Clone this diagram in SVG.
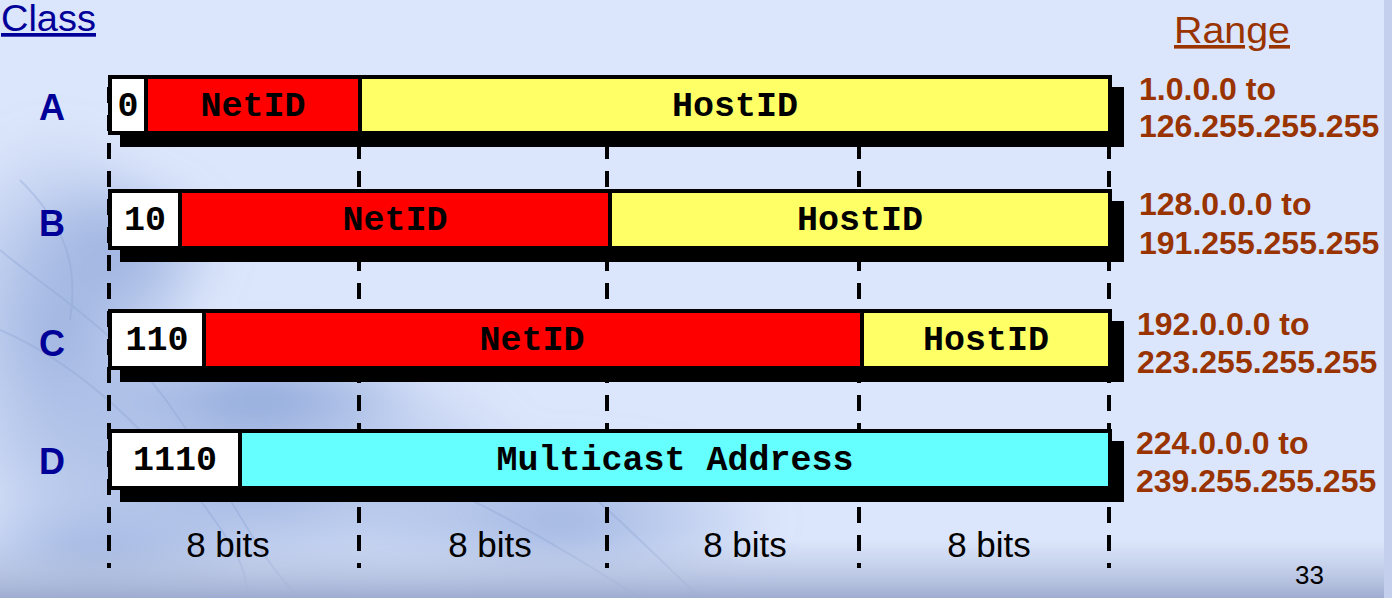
<svg xmlns="http://www.w3.org/2000/svg" width="1392" height="598" viewBox="0 0 1392 598">
<defs>
<style>
.lbl{font-family:"Liberation Sans",Arial,sans-serif;font-weight:bold;font-size:36px;fill:#000099;text-anchor:middle}
.rng{font-family:"Liberation Sans",Arial,sans-serif;font-weight:bold;font-size:32px;fill:#993300}
.mono{font-family:"Liberation Mono","Courier New",monospace;font-weight:bold;font-size:35px;fill:#000;text-anchor:middle}
.bits{font-family:"Liberation Sans",Arial,sans-serif;font-size:35px;fill:#000;text-anchor:middle}
.box{stroke:#000;stroke-width:4}
.shadow{fill:#000}
.div{stroke:#000;stroke-width:4}
.dash{stroke:#000;stroke-width:4;stroke-dasharray:16 12;fill:none}
</style>
<linearGradient id="bottomBand" x1="0" y1="0" x2="0" y2="1">
<stop offset="0" stop-color="#b9c5e3" stop-opacity="0"/>
<stop offset="0.5" stop-color="#b2bfdd" stop-opacity="0.6"/>
<stop offset="1" stop-color="#9eacd0" stop-opacity="1"/>
</linearGradient>
<radialGradient id="blob" cx="0.5" cy="0.5" r="0.5">
<stop offset="0" stop-color="#7f9bd3" stop-opacity="0.85"/>
<stop offset="1" stop-color="#7f9bd3" stop-opacity="0"/>
</radialGradient>
<radialGradient id="blob2" cx="0.5" cy="0.5" r="0.5">
<stop offset="0" stop-color="#9ab0de" stop-opacity="0.95"/>
<stop offset="1" stop-color="#9ab0de" stop-opacity="0"/>
</radialGradient>
<filter id="soft" x="-20%" y="-20%" width="140%" height="140%"><feGaussianBlur stdDeviation="18"/></filter>
</defs>

<!-- background -->
<rect x="0" y="0" width="1392" height="598" fill="#dbe5fb"/>
<g filter="url(#soft)">
<ellipse cx="60" cy="330" rx="140" ry="210" fill="url(#blob2)"/>
<ellipse cx="250" cy="470" rx="290" ry="140" fill="url(#blob2)"/>
<ellipse cx="260" cy="395" rx="170" ry="40" fill="url(#blob)"/>
<ellipse cx="560" cy="520" rx="220" ry="80" fill="url(#blob2)"/>
<ellipse cx="90" cy="560" rx="170" ry="70" fill="url(#blob2)"/>
<ellipse cx="120" cy="250" rx="110" ry="80" fill="url(#blob2)"/>
</g>
<g stroke="#8aa2d2" stroke-width="2" fill="none" opacity="0.35">
<path d="M0 250 C60 300 120 330 180 420 S260 560 300 598"/>
<path d="M0 330 C70 360 140 420 200 500 S240 580 250 598"/>
<path d="M20 180 C60 220 80 260 70 320"/>
<path d="M330 440 C420 470 520 520 640 598"/>
<path d="M560 470 C600 500 640 540 700 598"/>
</g>
<rect x="0" y="540" width="1392" height="58" fill="url(#bottomBand)"/>
<rect x="1384" y="0" width="8" height="598" fill="#c3cfec"/>

<!-- titles -->
<text x="1" y="31" textLength="95" lengthAdjust="spacingAndGlyphs" style="font-family:'Liberation Sans',Arial,sans-serif;font-size:37px;fill:#000099;text-decoration:underline">Class</text>
<text x="1174" y="43" textLength="116" lengthAdjust="spacingAndGlyphs" style="font-family:'Liberation Sans',Arial,sans-serif;font-size:36px;fill:#993300;text-decoration:underline">Range</text>

<!-- connectors: dashed octet boundaries -->
<g id="connectors">
<line class="dash" x1="109" y1="87" x2="109" y2="568"/>
<line class="dash" x1="359" y1="87" x2="359" y2="568"/>
<line class="dash" x1="607" y1="87" x2="607" y2="568"/>
<line class="dash" x1="859" y1="87" x2="859" y2="568"/>
<line class="dash" x1="1109" y1="87" x2="1109" y2="568"/>
</g>

<!-- Class A -->
<g id="classA">
<text class="lbl" x="52" y="120">A</text>
<rect class="shadow" x="120" y="87" width="1004" height="60"/>
<rect class="box" x="110" y="77" width="1000" height="56" fill="#ffff66"/>
<rect x="112" y="79" width="34" height="52" fill="#fff"/>
<rect x="146" y="79" width="214" height="52" fill="#ff0000"/>
<line class="div" x1="146" y1="77" x2="146" y2="133"/>
<line class="div" x1="360" y1="77" x2="360" y2="133"/>
<text class="mono" x="128" y="116">0</text>
<text class="mono" x="253" y="116">NetID</text>
<text class="mono" x="735" y="116">HostID</text>
<text class="rng" x="1139" y="100">1.0.0.0 to</text>
<text class="rng" x="1139" y="137">126.255.255.255</text>
</g>

<!-- Class B -->
<g id="classB">
<text class="lbl" x="52" y="236">B</text>
<rect class="shadow" x="120" y="201" width="1004" height="61"/>
<rect class="box" x="110" y="191" width="1000" height="57" fill="#ffff66"/>
<rect x="112" y="193" width="68" height="53" fill="#fff"/>
<rect x="180" y="193" width="430" height="53" fill="#ff0000"/>
<line class="div" x1="180" y1="191" x2="180" y2="248"/>
<line class="div" x1="610" y1="191" x2="610" y2="248"/>
<text class="mono" x="145" y="230">10</text>
<text class="mono" x="395" y="230">NetID</text>
<text class="mono" x="860" y="230">HostID</text>
<text class="rng" x="1139" y="215">128.0.0.0 to</text>
<text class="rng" x="1139" y="254">191.255.255.255</text>
</g>

<!-- Class C -->
<g id="classC">
<text class="lbl" x="52" y="356">C</text>
<rect class="shadow" x="120" y="321" width="1004" height="61"/>
<rect class="box" x="110" y="311" width="1000" height="57" fill="#ffff66"/>
<rect x="112" y="313" width="92" height="53" fill="#fff"/>
<rect x="204" y="313" width="658" height="53" fill="#ff0000"/>
<line class="div" x1="204" y1="311" x2="204" y2="368"/>
<line class="div" x1="862" y1="311" x2="862" y2="368"/>
<text class="mono" x="157" y="350">110</text>
<text class="mono" x="532" y="350">NetID</text>
<text class="mono" x="986" y="350">HostID</text>
<text class="rng" x="1137" y="335">192.0.0.0 to</text>
<text class="rng" x="1137" y="373">223.255.255.255</text>
</g>

<!-- Class D -->
<g id="classD">
<text class="lbl" x="52" y="474">D</text>
<rect class="shadow" x="120" y="441" width="1004" height="61"/>
<rect class="box" x="110" y="431" width="1000" height="57" fill="#66ffff"/>
<rect x="112" y="433" width="128" height="53" fill="#fff"/>
<line class="div" x1="240" y1="431" x2="240" y2="488"/>
<text class="mono" x="175" y="470">1110</text>
<text class="mono" x="675" y="470">Multicast Address</text>
<text class="rng" x="1136" y="454">224.0.0.0 to</text>
<text class="rng" x="1136" y="492">239.255.255.255</text>
</g>

<!-- octet sizes -->
<g id="octets">
<text class="bits" x="228" y="557">8 bits</text>
<text class="bits" x="490" y="557">8 bits</text>
<text class="bits" x="745" y="557">8 bits</text>
<text class="bits" x="989" y="557">8 bits</text>
</g>

<text x="1295" y="584" style="font-family:'Liberation Sans',Arial,sans-serif;font-size:26px;fill:#000">33</text>
</svg>
